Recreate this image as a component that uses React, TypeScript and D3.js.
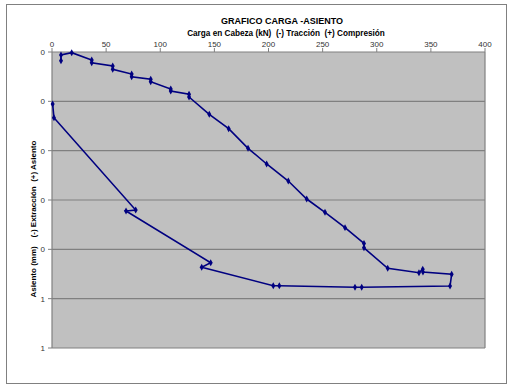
import React from "react";
import * as d3 from "d3";

const loads = [8.3, 8.3, 18.2, 36.7, 36.7, 56.1, 56.1, 73.6, 73.6, 91.2, 91.2, 109.7, 109.7, 126.6, 126.6, 145.3, 163.2, 181.1, 198.3, 218.3, 235.3, 252.2, 270.7, 288.2, 288.2, 310.1, 339.0, 342.5, 342.7, 369.2, 367.7, 286.1, 279.9, 210.0, 204.4, 138.3, 146.6, 68.4, 77.3, 1.8, 0.6];
const settlements = [0.0176, 0.0061, 0.0014, 0.0162, 0.0217, 0.0284, 0.0351, 0.0446, 0.0501, 0.0553, 0.0602, 0.075, 0.079, 0.0857, 0.0912, 0.1263, 0.1555, 0.1952, 0.227, 0.2615, 0.298, 0.325, 0.356, 0.388, 0.397, 0.4385, 0.4474, 0.4405, 0.446, 0.4506, 0.4743, 0.477, 0.477, 0.4737, 0.4737, 0.4364, 0.4271, 0.3223, 0.3203, 0.1332, 0.1054];
const xTicks = [0, 50, 100, 150, 200, 250, 300, 350, 400];
const yTicks = [0, 0.1, 0.2, 0.3, 0.4, 0.5, 0.6];
const yTickLabels = ["0", "0", "0", "0", "0", "1", "1"];

const W = 512, H = 385;
const L = 52, R = 485, T = 52, B = 348;

export default function App() {
  const x = d3.scaleLinear().domain([0, 400]).range([L, R]);
  const y = d3.scaleLinear().domain([0, 0.6]).range([T, B]);
  const pts = loads.map((l, i) => [l, settlements[i]] as [number, number]);
  const line = d3.line<[number, number]>().x(d => x(d[0])).y(d => y(d[1]));
  const font = "'Liberation Sans', Arial, sans-serif";
  return (
    <svg width={W} height={H} style={{ position: "fixed", left: 0, top: 0, background: "#fff" }} fontFamily={font}>
      <rect x={6.5} y={4.5} width={500} height={379} fill="#fff" stroke="#808080" strokeWidth={1} />
      <rect x={L} y={T} width={R - L} height={B - T} fill="#C0C0C0" />
      {yTicks.map((t, i) => (
        <g key={i}>
          <line x1={L} x2={R} y1={y(t)} y2={y(t)} stroke="#808080" strokeWidth={1.2} />
          <line x1={L - 4} x2={L} y1={y(t)} y2={y(t)} stroke="#808080" />
          <text x={L - 7} y={y(t) + 3} fontSize={8} textAnchor="end" fill="#333">{yTickLabels[i]}</text>
        </g>
      ))}
      <line x1={R} x2={R} y1={T} y2={B} stroke="#808080" strokeWidth={1.2} />
      <line x1={L} x2={L} y1={T} y2={B} stroke="#808080" strokeWidth={1.2} />
      {xTicks.map((t, i) => (
        <g key={i}>
          <line x1={x(t)} x2={x(t)} y1={T - 4} y2={T} stroke="#808080" />
          <text x={x(t)} y={T - 5.5} fontSize={8} textAnchor="middle" fill="#333">{t}</text>
        </g>
      ))}
      <text x={282} y={24} fontSize={9} fontWeight="bold" textAnchor="middle" fill="#000">GRAFICO CARGA -ASIENTO</text>
      <text x={286} y={36} fontSize={8.2} fontWeight="bold" textAnchor="middle" fill="#000" style={{ whiteSpace: "pre" }}>Carga en Cabeza (kN)  (-) Tracción  (+) Compresión</text>
      <text transform={`translate(36,219) rotate(-90)`} fontSize={8} fontWeight="bold" textAnchor="middle" fill="#000" style={{ whiteSpace: "pre" }}>Asiento (mm)    (-) Extracción  (+) Asiento</text>
      <path d={line(pts) || ""} fill="none" stroke="#000080" strokeWidth={1.6} />
      {pts.map((p, i) => (
        <path key={i} transform={`translate(${x(p[0])},${y(p[1])})`} d={d3.symbol(d3.symbolDiamond, 14)() || ""} fill="#000080" />
      ))}
    </svg>
  );
}
